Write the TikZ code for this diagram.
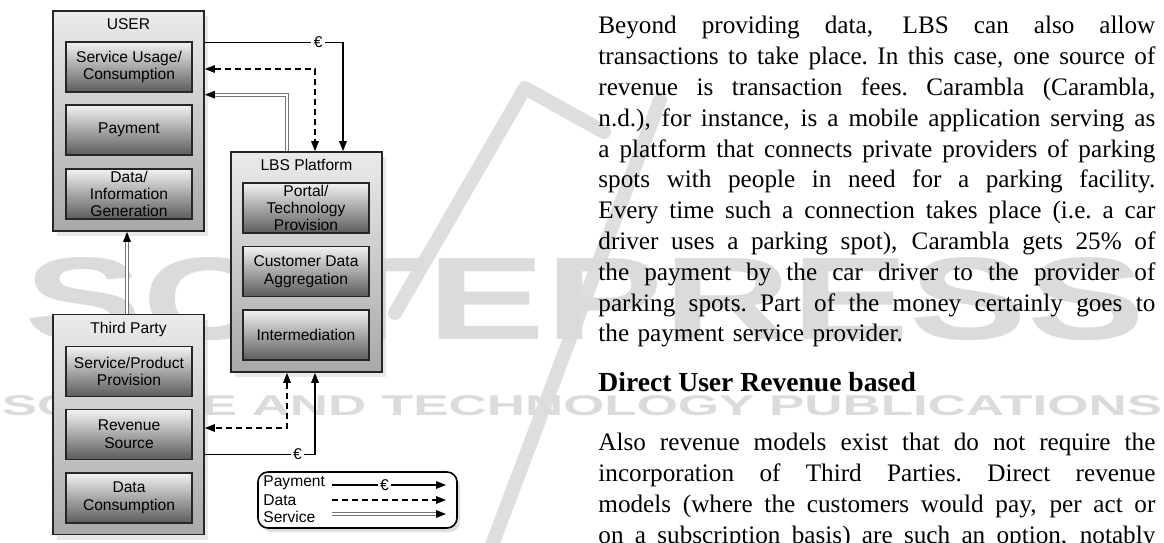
\documentclass[tikz,border=0pt]{standalone}
\usepackage{fontspec}
\setmainfont{Liberation Serif}
\setsansfont{Liberation Sans}
\usepackage{graphicx}
\usetikzlibrary{arrows.meta}
\usetikzlibrary{shadows}
\usetikzlibrary{positioning}

\newcommand{\diagfont}{\sffamily\fontsize{7.8}{8.9}\selectfont}
\newcommand{\bodytext}{\rmfamily\fontsize{12.6}{15.4}\selectfont}
\newcommand{\fullline}[1]{\hbox to 278.5pt{\spaceskip=0.25em plus 1fil minus 0.05em\xspaceskip=\spaceskip #1}}
\newcommand{\lastline}[1]{\hbox{#1}}

\tikzset{
  party/.style={draw=black!85, line width=0.9pt, top color=black!8, bottom color=black!34,
    minimum width=75.5pt, minimum height=110pt,
    drop shadow={shadow xshift=2pt, shadow yshift=-2.5pt, fill=black!18}},
  role/.style={draw=black!85, line width=0.7pt, top color=black!5, bottom color=black!64,
    minimum width=63pt, minimum height=25pt, align=center, inner sep=1pt, font=\diagfont},
  title/.style={font=\diagfont, inner sep=0pt},
  euro/.style={fill=white, inner sep=1.2pt, font=\diagfont},
  pay/.style={line width=0.6pt},
  info/.style={line width=0.6pt, dash pattern=on 3.2pt off 1.8pt},
  serv/.style={draw=black!55, double=white, double distance=1pt, line width=0.4pt, shorten >=4pt},
  servtip/.style={line width=0.6pt, ->, line cap=butt, dash pattern=on 0pt off 2000pt},
  legendbox/.style={draw, line width=0.8pt, fill=white, rounded corners=5pt,
    minimum width=99.5pt, minimum height=28pt,
    drop shadow={shadow xshift=1.5pt, shadow yshift=-2pt, fill=black!25}},
  wmark/.style={text=black!14, font=\sffamily\bfseries, inner sep=0pt},
  wband/.style={draw=black!13, line width=7pt, line cap=round, line join=round}
}

\begin{document}
\begin{tikzpicture}[x=0.5pt, y=-0.5pt, >={Triangle[length=5pt,width=3.8pt]}]
\useasboundingbox (0,0) rectangle (1164,542);

% watermark behind everything
\draw[wband] (395,313) -- (525,88) -- (604,132);
\draw[wband] (660,100) -- (492,545);
\node[wmark] (wmBig) at (585,299) {\resizebox{560pt}{41pt}{SCITEPRESS}};
\node[wmark] (wmSmall) at (582,406) {\resizebox{580pt}{10pt}{SCIENCE AND TECHNOLOGY PUBLICATIONS}};

% the three parties
\node[party] (user) at (128.5,121) {};
\node[party] (lbs) at (306.5,262) {};
\node[party] (third) at (128.5,424.5) {};

\node[title, below=4pt of user.north] (userT) {USER};
\node[title, below=4pt of lbs.north] (lbsT) {LBS Platform};
\node[title, below=4pt of third.north] (thirdT) {Third Party};

% roles
\node[role] (su) at (129,67) {Service Usage/\\Consumption};
\node[role] (pm) at (129,130) {Payment};
\node[role, font=\sffamily\fontsize{7.8}{8.7}\selectfont] (dg) at (129,194) {Data/\\Information\\Generation};

\node[role, font=\sffamily\fontsize{7.8}{8.7}\selectfont] (pt) at (306,208) {Portal/\\Technology\\Provision};
\node[role] (ca) at (306,271.5) {Customer Data\\Aggregation};
\node[role] (im) at (306,335) {Intermediation};

\node[role] (sp) at (129,371.5) {Service/Product\\Provision};
\node[role] (rev) at (129,434.5) {Revenue\\Source};
\node[role] (dc) at (129,498) {Data\\Consumption};

% attachment points
\coordinate (lbsPayIn) at ([xshift=18.25pt]lbs.north);
\coordinate (lbsDatTop) at ([xshift=4.25pt]lbs.north);
\coordinate (lbsSrvOut) at ([xshift=-9.75pt]lbs.north);
\coordinate (lbsDatBot) at ([xshift=-9.75pt]lbs.south);
\coordinate (lbsPayBot) at ([xshift=4.25pt]lbs.south);
\coordinate (userSrvIn) at ([yshift=-1pt]user.east |- su.south);
\coordinate (userSrvBot) at ([xshift=-0.75pt]user.south);
\coordinate (thirdSrvOut) at ([xshift=-0.75pt]third.north);

% user <-> platform
\draw[pay, ->] ([yshift=-0.5pt]user.east |- su.north) -| node[euro, pos=0.41] {€} (lbsPayIn);
\draw[info, <->] ([yshift=-1pt]user.east |- su) -| (lbsDatTop);
\draw[serv] (lbsSrvOut) |- (userSrvIn);
\draw[servtip] (lbsSrvOut) |- (userSrvIn);

% third party <-> platform
\draw[info, <->] (lbsDatBot) |- ([yshift=3.25pt]third.east |- rev);
\draw[pay, ->] ([yshift=3pt]third.east |- rev.south) -| node[euro, pos=0.42] {€} (lbsPayBot);

% third party -> user
\draw[serv] (thirdSrvOut) -- (userSrvBot);
\draw[servtip] (thirdSrvOut) -- (userSrvBot);

% legend
\node[legendbox] (legend) at (357.5,500) {};
\node[title, anchor=west] (lgPay) at (263,483) {Payment};
\node[title, anchor=west] (lgDat) at (263,500) {Data};
\node[title, anchor=west] (lgSrv) at (263,517) {Service};
\coordinate (lgPayA) at (332,485);
\coordinate (lgPayB) at (446,485);
\coordinate (lgDatA) at (332,500);
\coordinate (lgDatB) at (446,500);
\coordinate (lgSrvA) at (332,514);
\coordinate (lgSrvB) at (446,514);
\draw[pay, ->] (lgPayA) -- node[euro, pos=0.46] {€} (lgPayB);
\draw[info, ->] (lgDatA) -- (lgDatB);
\draw[serv] (lgSrvA) -- (lgSrvB);
\draw[servtip] (lgSrvA) -- (lgSrvB);

% running text
\node[anchor=north west, inner sep=0pt, text width=278.5pt, font=\bodytext] (para1) at (598,16) {%
\fullline{Beyond providing data, LBS can also allow}
\fullline{transactions to take place. In this case, one source of}
\fullline{revenue is transaction fees. Carambla (Carambla,}
\fullline{n.d.), for instance, is a mobile application serving as}
\fullline{a platform that connects private providers of parking}
\fullline{spots with people in need for a parking facility.}
\fullline{Every time such a connection takes place (i.e. a car}
\fullline{driver uses a parking spot), Carambla gets 25\% of}
\fullline{the payment by the car driver to the provider of}
\fullline{parking spots. Part of the money certainly goes to}
\lastline{the payment service provider.}};
\node[anchor=west, inner sep=0pt, font=\rmfamily\bfseries\fontsize{13.8}{16}\selectfont] (head) at (598,382) {Direct User Revenue based};
\node[anchor=north west, inner sep=0pt, text width=278.5pt, font=\bodytext] (para2) at (598,433) {%
\fullline{Also revenue models exist that do not require the}
\fullline{incorporation of Third Parties. Direct revenue}
\fullline{models (where the customers would pay, per act or}
\fullline{on a subscription basis) are such an option, notably}};
\end{tikzpicture}
\end{document}
